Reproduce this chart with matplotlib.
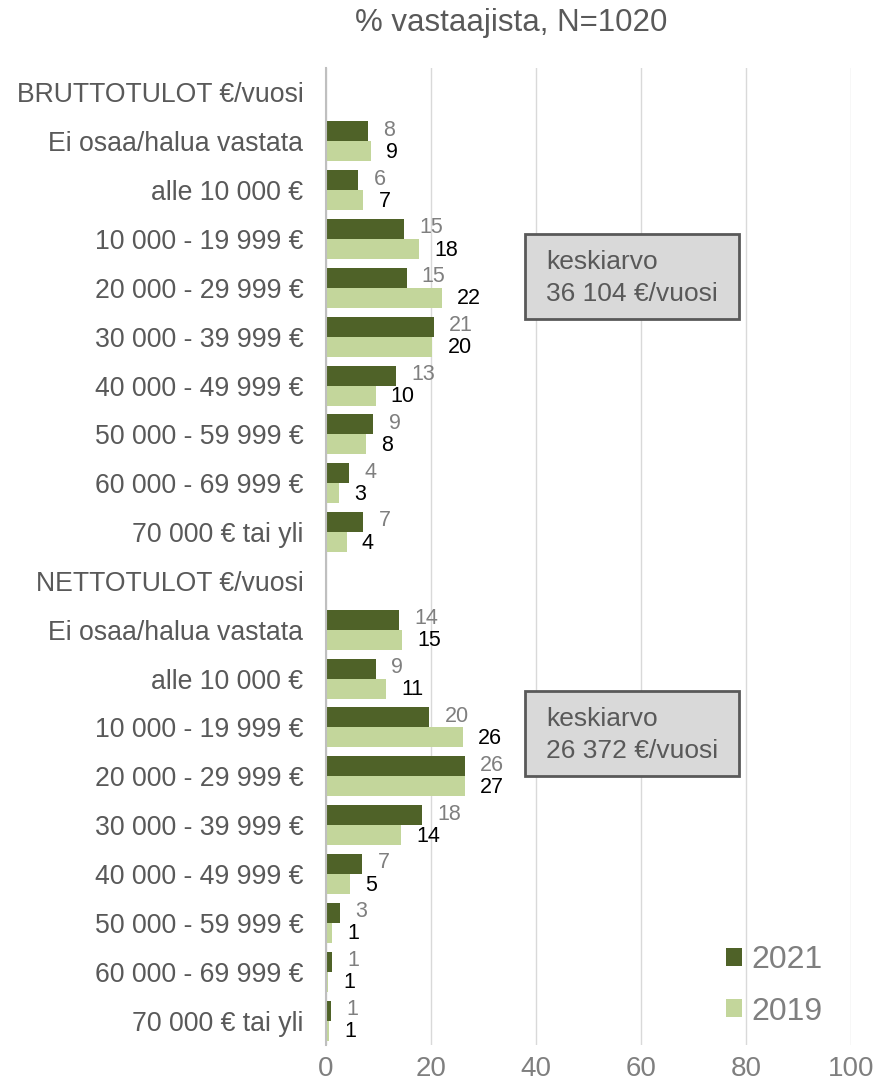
import numpy as np
import matplotlib.pyplot as plt
from matplotlib.patches import Rectangle, Patch

plt.rcParams['font.family'] = ['Liberation Sans', 'DejaVu Sans']

# data (% of respondents)
income_bands = ['Ei osaa/halua vastata', 'alle 10 000 €', '10 000 - 19 999 €',
                '20 000 - 29 999 €', '30 000 - 39 999 €', '40 000 - 49 999 €',
                '50 000 - 59 999 €', '60 000 - 69 999 €', '70 000 € tai yli']
gross_2021 = [8.1, 6.2, 15.0, 15.4, 20.6, 13.4, 9.1, 4.4, 7.2]
gross_2019 = [8.6, 7.2, 17.7, 22.1, 20.3, 9.5, 7.7, 2.6, 4.0]
net_2021 = [13.9, 9.5, 19.7, 26.5, 18.3, 7.0, 2.8, 1.2, 1.0]
net_2019 = [14.6, 11.5, 26.1, 26.5, 14.3, 4.6, 1.3, 0.4, 0.6]
gross_2021_lbl = [8, 6, 15, 15, 21, 13, 9, 4, 7]
gross_2019_lbl = [9, 7, 18, 22, 20, 10, 8, 3, 4]
net_2021_lbl = [14, 9, 20, 26, 18, 7, 3, 1, 1]
net_2019_lbl = [15, 11, 26, 27, 14, 5, 1, 1, 1]
gross_mean = 'keskiarvo\n36 104 €/vuosi'
net_mean = 'keskiarvo\n26 372 €/vuosi'

categories = ['BRUTTOTULOT €/vuosi'] + income_bands + ['NETTOTULOT €/vuosi'] + income_bands
v2021 = [np.nan] + gross_2021 + [np.nan] + net_2021
v2019 = [np.nan] + gross_2019 + [np.nan] + net_2019
l2021 = [None] + gross_2021_lbl + [None] + net_2021_lbl
l2019 = [None] + gross_2019_lbl + [None] + net_2019_lbl

DARK = '#4f6228'
LIGHT = '#c3d69b'
GRAY = '#595959'

fig = plt.figure(figsize=(8.8, 10.85), dpi=100)
ax = fig.add_axes([0.37, 0.0369, 0.5976, 0.9004])

y = np.arange(len(categories))
h = 0.41
ax.barh(y - h / 2, v2021, height=h, color=DARK, zorder=3)
ax.barh(y + h / 2, v2019, height=h, color=LIGHT, zorder=3)

for yi, v, lab in zip(y, v2021, l2021):
    if lab is not None:
        ax.annotate(str(lab), xy=(v, yi - h / 2), xytext=(11, 0.8), textcoords='offset points',
                    ha='left', va='center', fontsize=15.5, color='#7f7f7f')
for yi, v, lab in zip(y, v2019, l2019):
    if lab is not None:
        ax.annotate(str(lab), xy=(v, yi + h / 2), xytext=(11, -0.8), textcoords='offset points',
                    ha='left', va='center', fontsize=15.5, color='black')

ax.set_xlim(0, 100)
ax.set_ylim(len(categories) - 0.5, -0.5)
ax.set_xticks([0, 20, 40, 60, 80, 100])
ax.set_yticks(y)
ax.set_yticklabels(categories)
ax.tick_params(axis='y', length=0, pad=16, labelsize=19.2, labelcolor=GRAY)
ax.tick_params(axis='x', length=0, pad=8, labelsize=20, labelcolor='#7f7f7f')
ax.grid(axis='x', color='#d9d9d9', linewidth=1, zorder=0)
for s in ['top', 'right', 'bottom']:
    ax.spines[s].set_visible(False)
ax.spines['left'].set_color('#bfbfbf')
ax.spines['left'].set_linewidth(1.5)
ax.spines['left'].set_zorder(4)

fig.text(0.581, 0.979, '% vastaajista, N=1020', ha='center', va='center',
         fontsize=22.5, color=GRAY)

# mean boxes
for top_px, txt in [(234, gross_mean), (691, net_mean)]:
    box = Rectangle((525 / 880, 1 - (top_px + 85) / 1085), 214 / 880, 85 / 1085,
                    transform=fig.transFigure, facecolor='#d9d9d9', edgecolor=GRAY,
                    linewidth=2, zorder=5)
    fig.add_artist(box)
    fig.text(546 / 880, 1 - (top_px + 44) / 1085, txt, ha='left', va='center',
             fontsize=19, color=GRAY, linespacing=1.4, zorder=6)

handles = [Patch(facecolor=DARK, label='2021'), Patch(facecolor=LIGHT, label='2019')]
fig.legend(handles=handles, loc='upper left', bbox_to_anchor=(726 / 880, 1 - 945 / 1085),
           frameon=False, fontsize=23, labelcolor='#7f7f7f', handlelength=0.5,
           handleheight=0.5, handletextpad=0.3, labelspacing=0.68, borderpad=0,
           borderaxespad=0)

fig.savefig('out.png', dpi=100)
